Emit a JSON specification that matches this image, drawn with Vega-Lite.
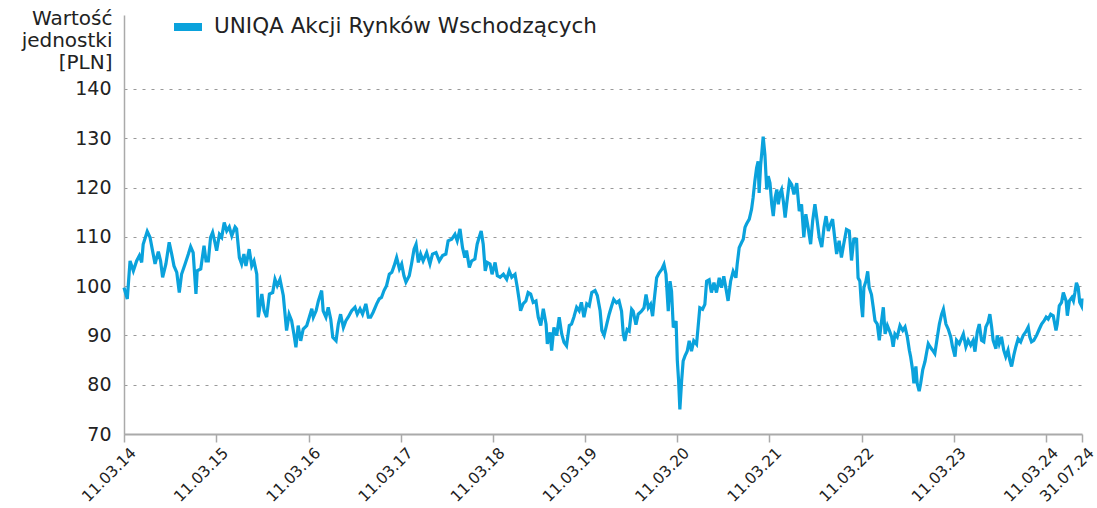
{
"$schema": "https://vega.github.io/schema/vega-lite/v6.json",
"width": 958, "height": 419,
"autosize": {"type": "none"},
"padding": {"left": 124, "top": 15, "right": 15, "bottom": 74},
"background": "white",
"config": {"view": {"stroke": null}, "font": "DejaVu Sans"},
"data": {"values": [
{"d":"2014-03-11","v":99.7},{"d":"2014-03-24","v":97.4},{"d":"2014-04-04","v":105.1},{"d":"2014-04-17","v":103.1},{"d":"2014-04-30","v":105.1},{"d":"2014-05-11","v":106.2},{"d":"2014-05-20","v":104.8},{"d":"2014-05-26","v":108.5},{"d":"2014-06-11","v":111.1},{"d":"2014-06-22","v":109.9},{"d":"2014-07-02","v":107.2},{"d":"2014-07-12","v":104.5},{"d":"2014-07-25","v":107},{"d":"2014-08-03","v":105.1},{"d":"2014-08-11","v":101.8},{"d":"2014-08-24","v":104.5},{"d":"2014-09-06","v":108.9},{"d":"2014-09-16","v":106.5},{"d":"2014-09-25","v":104.1},{"d":"2014-10-06","v":102.8},{"d":"2014-10-16","v":98.7},{"d":"2014-10-25","v":102.4},{"d":"2014-11-08","v":104.5},{"d":"2014-11-21","v":106.5},{"d":"2014-11-30","v":108},{"d":"2014-12-10","v":106.8},{"d":"2014-12-21","v":98.4},{"d":"2014-12-26","v":103.1},
{"d":"2015-01-09","v":103.5},{"d":"2015-01-22","v":108.2},{"d":"2015-01-30","v":105.1},{"d":"2015-02-08","v":105.1},{"d":"2015-02-17","v":109.9},{"d":"2015-02-25","v":110.9},{"d":"2015-03-06","v":108.9},{"d":"2015-03-13","v":107.2},{"d":"2015-03-24","v":110.5},{"d":"2015-04-02","v":109.9},{"d":"2015-04-12","v":112.9},{"d":"2015-04-22","v":111.2},{"d":"2015-05-02","v":112},{"d":"2015-05-12","v":110.2},{"d":"2015-05-25","v":112},{"d":"2015-05-31","v":111.6},{"d":"2015-06-11","v":105.8},{"d":"2015-06-20","v":104.5},{"d":"2015-06-29","v":106.5},{"d":"2015-07-07","v":104.1},{"d":"2015-07-20","v":107.5},{"d":"2015-07-30","v":104.1},{"d":"2015-08-08","v":105.1},{"d":"2015-08-19","v":102.4},{"d":"2015-08-25","v":93.7},{"d":"2015-09-08","v":98.4},{"d":"2015-09-17","v":95},{"d":"2015-09-27","v":93.7},{"d":"2015-10-08","v":98.4},{"d":"2015-10-21","v":98.7},{"d":"2015-10-30","v":101.4},{"d":"2015-11-08","v":100.1},{"d":"2015-11-19","v":101.4},{"d":"2015-12-02","v":98.1},{"d":"2015-12-15","v":91},{"d":"2015-12-25","v":94.3},
{"d":"2016-01-04","v":93},{"d":"2016-01-13","v":90.3},{"d":"2016-01-21","v":87.6},{"d":"2016-01-30","v":92},{"d":"2016-02-09","v":88.9},{"d":"2016-02-19","v":91.3},{"d":"2016-03-04","v":92},{"d":"2016-03-14","v":93.7},{"d":"2016-03-24","v":95.4},{"d":"2016-03-30","v":93.7},{"d":"2016-04-10","v":95},{"d":"2016-04-19","v":97},{"d":"2016-05-02","v":99.1},{"d":"2016-05-08","v":95},{"d":"2016-05-19","v":93.7},{"d":"2016-05-28","v":95.7},{"d":"2016-06-07","v":93.3},{"d":"2016-06-15","v":89.6},{"d":"2016-06-28","v":88.9},{"d":"2016-07-07","v":92.3},{"d":"2016-07-16","v":94.3},{"d":"2016-07-27","v":91.6},{"d":"2016-08-06","v":93},{"d":"2016-08-15","v":93.7},{"d":"2016-08-29","v":95},{"d":"2016-09-11","v":95.7},{"d":"2016-09-20","v":94.3},{"d":"2016-10-01","v":95.4},{"d":"2016-10-11","v":94.3},{"d":"2016-10-24","v":96.4},{"d":"2016-11-03","v":93.7},{"d":"2016-11-12","v":93.7},{"d":"2016-11-22","v":94.7},{"d":"2016-12-06","v":96.4},{"d":"2016-12-16","v":97.4},{"d":"2016-12-25","v":97.7},
{"d":"2017-01-04","v":99.1},{"d":"2017-01-14","v":100.1},{"d":"2017-01-25","v":102.4},{"d":"2017-02-04","v":102.8},{"d":"2017-02-13","v":104.1},{"d":"2017-02-23","v":105.8},{"d":"2017-03-06","v":103.5},{"d":"2017-03-15","v":104.5},{"d":"2017-03-24","v":102.1},{"d":"2017-04-01","v":100.8},{"d":"2017-04-14","v":102.1},{"d":"2017-04-23","v":104.5},{"d":"2017-05-03","v":107.5},{"d":"2017-05-11","v":108.5},{"d":"2017-05-20","v":104.8},{"d":"2017-05-29","v":106.5},{"d":"2017-06-08","v":105.1},{"d":"2017-06-22","v":106.8},{"d":"2017-07-05","v":104.5},{"d":"2017-07-15","v":106.5},{"d":"2017-07-29","v":106.8},{"d":"2017-08-11","v":105.1},{"d":"2017-08-24","v":106.2},{"d":"2017-09-06","v":106.5},{"d":"2017-09-15","v":109.2},{"d":"2017-09-29","v":109.5},{"d":"2017-10-12","v":110.5},{"d":"2017-10-21","v":109.2},{"d":"2017-11-01","v":111.6},{"d":"2017-11-11","v":107.8},{"d":"2017-11-20","v":105.8},{"d":"2017-11-27","v":107.2},{"d":"2017-12-08","v":103.8},{"d":"2017-12-17","v":105.1},{"d":"2017-12-30","v":105.5},
{"d":"2018-01-08","v":108.5},{"d":"2018-01-16","v":109.9},{"d":"2018-01-24","v":111.2},{"d":"2018-02-01","v":108.5},{"d":"2018-02-09","v":103.1},{"d":"2018-02-17","v":104.8},{"d":"2018-02-28","v":104.5},{"d":"2018-03-08","v":102.4},{"d":"2018-03-20","v":104.8},{"d":"2018-03-29","v":102.1},{"d":"2018-04-09","v":101.8},{"d":"2018-04-22","v":102.4},{"d":"2018-05-05","v":101.4},{"d":"2018-05-15","v":103.1},{"d":"2018-05-25","v":101.8},{"d":"2018-06-07","v":102.4},{"d":"2018-06-16","v":99.7},{"d":"2018-06-24","v":97},{"d":"2018-06-29","v":95},{"d":"2018-07-09","v":96.4},{"d":"2018-07-20","v":97},{"d":"2018-07-29","v":98.7},{"d":"2018-08-08","v":98.4},{"d":"2018-08-18","v":96.7},{"d":"2018-08-29","v":97},{"d":"2018-09-07","v":93.7},{"d":"2018-09-17","v":92},{"d":"2018-09-27","v":95.4},{"d":"2018-10-08","v":92.3},{"d":"2018-10-13","v":88.3},{"d":"2018-10-24","v":90.6},{"d":"2018-10-30","v":86.9},{"d":"2018-11-08","v":91.6},{"d":"2018-11-19","v":90},{"d":"2018-11-29","v":93.7},{"d":"2018-12-09","v":90.3},{"d":"2018-12-18","v":88.6},{"d":"2018-12-28","v":87.9},
{"d":"2019-01-08","v":92},{"d":"2019-01-17","v":92.3},{"d":"2019-01-26","v":93.7},{"d":"2019-02-06","v":95.7},{"d":"2019-02-16","v":95},{"d":"2019-02-25","v":96.7},{"d":"2019-03-07","v":93.7},{"d":"2019-03-18","v":96.4},{"d":"2019-03-28","v":96},{"d":"2019-04-07","v":98.7},{"d":"2019-04-20","v":99.1},{"d":"2019-04-29","v":98.1},{"d":"2019-05-10","v":95},{"d":"2019-05-17","v":91},{"d":"2019-05-26","v":90},{"d":"2019-06-05","v":92.2},{"d":"2019-06-15","v":94.3},{"d":"2019-06-25","v":96},{"d":"2019-07-03","v":97.3},{"d":"2019-07-14","v":96.6},{"d":"2019-07-24","v":97},{"d":"2019-08-03","v":94.9},{"d":"2019-08-10","v":90.2},{"d":"2019-08-16","v":88.9},{"d":"2019-08-25","v":91.2},{"d":"2019-09-02","v":90.9},{"d":"2019-09-12","v":95.3},{"d":"2019-09-18","v":94.9},{"d":"2019-09-29","v":92.2},{"d":"2019-10-08","v":94.3},{"d":"2019-10-21","v":94.9},{"d":"2019-10-31","v":95.6},{"d":"2019-11-08","v":98.3},{"d":"2019-11-17","v":95.6},{"d":"2019-11-26","v":96.3},{"d":"2019-12-04","v":93.9},{"d":"2019-12-10","v":97},{"d":"2019-12-20","v":101.7},{"d":"2019-12-30","v":102.7},
{"d":"2020-01-09","v":103.4},{"d":"2020-01-18","v":104.4},{"d":"2020-01-26","v":102.4},{"d":"2020-02-04","v":94.9},{"d":"2020-02-11","v":101},{"d":"2020-02-17","v":99},{"d":"2020-02-24","v":91.6},{"d":"2020-03-06","v":92.9},{"d":"2020-03-11","v":84.8},{"d":"2020-03-16","v":80.8},{"d":"2020-03-21","v":75},{"d":"2020-03-28","v":80.8},{"d":"2020-04-03","v":84.8},{"d":"2020-04-10","v":85.8},{"d":"2020-04-19","v":86.8},{"d":"2020-04-27","v":88.9},{"d":"2020-05-06","v":86.8},{"d":"2020-05-15","v":88.9},{"d":"2020-05-26","v":88.2},{"d":"2020-06-01","v":91.6},{"d":"2020-06-08","v":95.6},{"d":"2020-06-19","v":95.3},{"d":"2020-06-28","v":96.3},{"d":"2020-07-05","v":101},{"d":"2020-07-15","v":101.3},{"d":"2020-07-24","v":98.7},{"d":"2020-08-03","v":100.7},{"d":"2020-08-13","v":98.7},{"d":"2020-08-24","v":101.7},{"d":"2020-09-02","v":99.7},{"d":"2020-09-11","v":102},{"d":"2020-09-19","v":99.7},{"d":"2020-09-28","v":97},{"d":"2020-10-08","v":101},{"d":"2020-10-18","v":103},{"d":"2020-10-29","v":101.7},{"d":"2020-11-03","v":104.4},{"d":"2020-11-11","v":107.8},{"d":"2020-11-20","v":108.8},{"d":"2020-11-27","v":109.5},{"d":"2020-12-04","v":111.9},{"d":"2020-12-10","v":112.6},{"d":"2020-12-21","v":113.6},{"d":"2020-12-30","v":115.6},
{"d":"2021-01-05","v":117.9},{"d":"2021-01-12","v":121.3},{"d":"2021-01-19","v":124},{"d":"2021-01-25","v":125.3},{"d":"2021-01-29","v":118.9},{"d":"2021-02-04","v":124.6},{"d":"2021-02-09","v":127.3},{"d":"2021-02-14","v":130.3},{"d":"2021-02-21","v":126.6},{"d":"2021-02-28","v":119.6},{"d":"2021-03-06","v":122.3},{"d":"2021-03-13","v":120.9},{"d":"2021-03-20","v":116.6},{"d":"2021-03-26","v":114.2},{"d":"2021-04-02","v":117.9},{"d":"2021-04-09","v":119.6},{"d":"2021-04-15","v":116.6},{"d":"2021-04-22","v":118.9},{"d":"2021-04-28","v":119.6},{"d":"2021-05-05","v":117.2},{"d":"2021-05-12","v":113.9},{"d":"2021-05-18","v":116.6},{"d":"2021-05-29","v":121.3},{"d":"2021-06-07","v":120.6},{"d":"2021-06-16","v":118.6},{"d":"2021-06-27","v":120.9},{"d":"2021-07-07","v":115.2},{"d":"2021-07-16","v":116.6},{"d":"2021-07-25","v":109.9},{"d":"2021-08-02","v":114.6},{"d":"2021-08-11","v":111.9},{"d":"2021-08-21","v":108.5},{"d":"2021-08-29","v":113.2},{"d":"2021-09-07","v":116.6},{"d":"2021-09-16","v":113.2},{"d":"2021-09-24","v":109.9},{"d":"2021-10-04","v":107.9},{"d":"2021-10-13","v":111.9},{"d":"2021-10-21","v":114.2},{"d":"2021-10-30","v":111.2},{"d":"2021-11-08","v":112.6},{"d":"2021-11-16","v":113.6},{"d":"2021-11-25","v":109.5},{"d":"2021-12-02","v":106.5},{"d":"2021-12-12","v":109.2},{"d":"2021-12-21","v":105.8},{"d":"2021-12-30","v":108.5},
{"d":"2022-01-10","v":111.5},{"d":"2022-01-21","v":111.2},{"d":"2022-01-30","v":105.2},{"d":"2022-02-08","v":109.5},{"d":"2022-02-19","v":109.5},{"d":"2022-02-25","v":101.7},{"d":"2022-03-04","v":101},{"d":"2022-03-10","v":96.3},{"d":"2022-03-15","v":93.7},{"d":"2022-03-20","v":99.7},{"d":"2022-03-28","v":101},{"d":"2022-04-04","v":103},{"d":"2022-04-10","v":99.7},{"d":"2022-04-19","v":98.3},{"d":"2022-04-26","v":95.7},{"d":"2022-05-03","v":93},{"d":"2022-05-12","v":92.3},{"d":"2022-05-20","v":89},{"d":"2022-05-26","v":91.7},{"d":"2022-06-05","v":95.7},{"d":"2022-06-12","v":90.3},{"d":"2022-06-21","v":92},{"d":"2022-06-29","v":91},{"d":"2022-07-08","v":89.7},{"d":"2022-07-14","v":87.7},{"d":"2022-07-21","v":90.3},{"d":"2022-07-30","v":89.7},{"d":"2022-08-10","v":92},{"d":"2022-08-21","v":91},{"d":"2022-08-30","v":91.7},{"d":"2022-09-08","v":89.7},{"d":"2022-09-16","v":87},{"d":"2022-09-21","v":85.7},{"d":"2022-09-29","v":83},{"d":"2022-10-04","v":80.3},{"d":"2022-10-12","v":83.7},{"d":"2022-10-17","v":80.3},{"d":"2022-10-25","v":78.7},{"d":"2022-10-31","v":80.3},{"d":"2022-11-08","v":83},{"d":"2022-11-17","v":84.7},{"d":"2022-11-24","v":86.7},{"d":"2022-11-30","v":88.3},{"d":"2022-12-07","v":87.7},{"d":"2022-12-17","v":87},{"d":"2022-12-26","v":86.3},
{"d":"2023-01-05","v":89.7},{"d":"2023-01-13","v":92.3},{"d":"2023-01-22","v":94.3},{"d":"2023-01-29","v":95.3},{"d":"2023-02-08","v":92.3},{"d":"2023-02-17","v":91.3},{"d":"2023-02-27","v":89.7},{"d":"2023-03-06","v":87.7},{"d":"2023-03-16","v":85.7},{"d":"2023-03-22","v":89},{"d":"2023-04-02","v":88.3},{"d":"2023-04-18","v":90.3},{"d":"2023-04-28","v":87.7},{"d":"2023-05-07","v":89},{"d":"2023-05-17","v":88},{"d":"2023-05-27","v":89},{"d":"2023-06-03","v":86.7},{"d":"2023-06-12","v":90.7},{"d":"2023-06-20","v":92.3},{"d":"2023-06-29","v":89},{"d":"2023-07-08","v":88.7},{"d":"2023-07-16","v":91.7},{"d":"2023-07-25","v":92.7},{"d":"2023-08-01","v":94.3},{"d":"2023-08-08","v":91.7},{"d":"2023-08-14","v":89},{"d":"2023-08-25","v":87.3},{"d":"2023-08-30","v":90},{"d":"2023-09-07","v":88.3},{"d":"2023-09-16","v":89.7},{"d":"2023-09-25","v":87},{"d":"2023-10-03","v":85.7},{"d":"2023-10-12","v":87},{"d":"2023-10-19","v":85},{"d":"2023-10-26","v":83.7},{"d":"2023-11-04","v":86},{"d":"2023-11-12","v":87.7},{"d":"2023-11-21","v":89.3},{"d":"2023-12-01","v":88.7},{"d":"2023-12-11","v":90},{"d":"2023-12-21","v":90.7},{"d":"2023-12-31","v":91.7},
{"d":"2024-01-06","v":89.7},{"d":"2024-01-13","v":88.7},{"d":"2024-01-22","v":89},{"d":"2024-02-02","v":90},{"d":"2024-02-13","v":91.3},{"d":"2024-02-22","v":92.3},{"d":"2024-03-03","v":93},{"d":"2024-03-11","v":93.7},{"d":"2024-03-19","v":93.3},{"d":"2024-03-29","v":94.3},{"d":"2024-04-08","v":94},{"d":"2024-04-19","v":91},{"d":"2024-04-24","v":92.3},{"d":"2024-05-02","v":96},{"d":"2024-05-11","v":96.7},{"d":"2024-05-18","v":98.7},{"d":"2024-05-29","v":97},{"d":"2024-06-03","v":94},{"d":"2024-06-11","v":97},{"d":"2024-06-21","v":97.7},{"d":"2024-06-27","v":97},{"d":"2024-07-03","v":98.7},{"d":"2024-07-09","v":100.7},{"d":"2024-07-16","v":99.7},{"d":"2024-07-22","v":96.7},{"d":"2024-07-29","v":96},{"d":"2024-07-31","v":97.5}
]},
"mark": {"type": "line", "strokeWidth": 3.2},
"encoding": {
  "x": {"field": "d", "type": "temporal",
    "scale": {"type": "utc", "domain": [{"year": 2014, "month": 3, "date": 11, "utc": true}, {"year": 2024, "month": 7, "date": 31, "utc": true}]},
    "axis": {"title": null, "format": "%d.%m.%y",
      "values": [{"year":2014,"month":3,"date":11,"utc":true},{"year":2015,"month":3,"date":11,"utc":true},{"year":2016,"month":3,"date":11,"utc":true},{"year":2017,"month":3,"date":11,"utc":true},{"year":2018,"month":3,"date":11,"utc":true},{"year":2019,"month":3,"date":11,"utc":true},{"year":2020,"month":3,"date":11,"utc":true},{"year":2021,"month":3,"date":11,"utc":true},{"year":2022,"month":3,"date":11,"utc":true},{"year":2023,"month":3,"date":11,"utc":true},{"year":2024,"month":3,"date":11,"utc":true},{"year":2024,"month":7,"date":31,"utc":true}],
      "labelAngle": -45, "labelAlign": "right", "labelBaseline": "top", "labelFontSize": 15.5, "labelColor": "#222", "labelPadding": 3, "labelOffset": 4, "labelOverlap": false, "labelBound": false, "labelFlush": false,
      "grid": false, "domainColor": "#aaaaaa", "domainWidth": 2, "tickColor": "#aaaaaa", "tickSize": 8, "tickWidth": 1.5}},
  "y": {"field": "v", "type": "quantitative",
    "scale": {"domain": [70, 155], "nice": false, "zero": false},
    "axis": {"values": [70, 80, 90, 100, 110, 120, 130, 140],
      "title": ["Wartość", "jednostki", "[PLN]"], "titleAngle": 0, "titleAlign": "right", "titleBaseline": "top", "titleX": -12, "titleY": -7, "titleFontSize": 20, "titleFontWeight": "normal", "titleLineHeight": 22, "titleColor": "#222",
      "labelFontSize": 19, "labelColor": "#222", "labelPadding": 13, "ticks": false,
      "domainColor": "#aaaaaa", "domainWidth": 1.5, "gridColor": "#999999", "gridDash": [3, 6], "gridWidth": 1}},
  "color": {"datum": "UNIQA Akcji Rynków Wschodzących", "type": "nominal",
    "scale": {"range": ["#0aa2dc"]},
    "legend": {"title": null, "orient": "none", "legendX": 46, "legendY": -6, "symbolType": "stroke", "symbolSize": 784, "symbolStrokeWidth": 8, "labelFontSize": 21.5, "labelLimit": 600, "labelColor": "#222", "labelOffset": 8}}
}
}
